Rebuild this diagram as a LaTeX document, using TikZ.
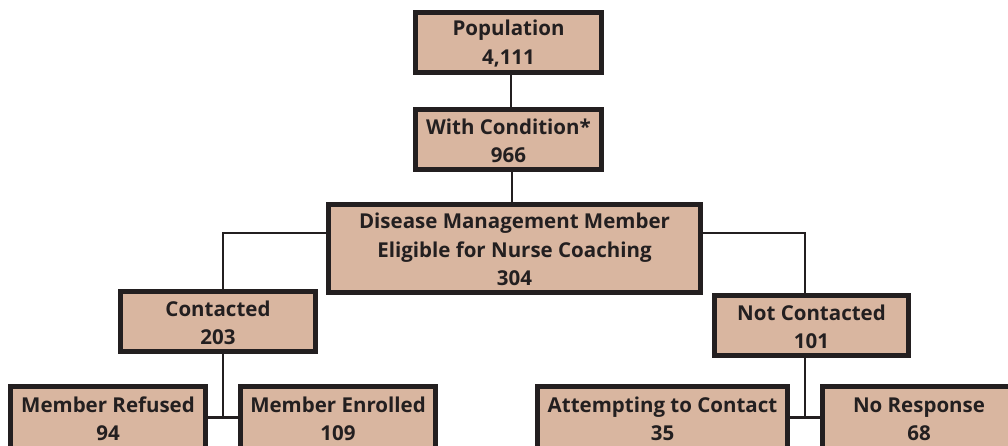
\documentclass[tikz,border=0pt]{standalone}
\usepackage{fontspec}
\setmainfont{Open Sans}
\definecolor{boxfill}{RGB}{217,182,160}
\definecolor{ink}{RGB}{35,31,32}
\newcommand\topstrut{\rule{0pt}{18pt}}
\begin{document}
\begin{tikzpicture}[x=1pt,y=-1pt,
  box/.style={draw=ink,line width=5pt,fill=boxfill,inner sep=0pt,
    text=ink,align=center,font=\fontsize{20.5}{28.5}\selectfont\bfseries,
    minimum height=60pt},
  link/.style={draw=ink,line width=2.4pt}]
\useasboundingbox (0,0) rectangle (1008,446);
\clip (0,0) rectangle (1008,446);
\node[box,minimum width=186pt] (pop) at (508.5,42.5) {\topstrut Population\\4,111};
\node[box,minimum width=186pt] (cond) at (508.5,139.5) {\topstrut With Condition*\\966};
\node[box,minimum width=372pt,minimum height=88pt] (dis) at (514.5,248.5) {\topstrut Disease Management Member\\Eligible for Nurse Coaching\\304};
\node[box,minimum width=195pt] (con) at (218,321.5) {\topstrut Contacted\\203};
\node[box,minimum width=194pt] (ncon) at (811.5,325.5) {\topstrut Not Contacted\\101};
\node[box,minimum width=195pt,minimum height=62pt] (ref) at (108,417.5) {\topstrut Member Refused\\94};
\node[box,minimum width=195pt,minimum height=62pt] (enr) at (338,417.5) {\topstrut Member Enrolled\\109};
\node[box,minimum width=250pt,minimum height=62pt] (att) at (662.5,417.5) {\topstrut Attempting to Contact\\35};
\node[box,minimum width=193pt,minimum height=62pt] (nor) at (919,417.5) {\topstrut No Response\\68};
\draw[link] ([xshift=2.5pt]pop.south) -- ([xshift=2.5pt]cond.north);
\draw[link] ([xshift=3.5pt]cond.south) -- ([xshift=3.5pt]cond.south |- dis.north);
\draw[link] ([yshift=15.5pt]dis.west) -| ([xshift=5pt]con.north);
\draw[link] ([yshift=15.5pt]dis.east) -| ([xshift=-6.5pt]ncon.north);
\draw[link] ([xshift=5pt]con.south) -- ([xshift=5pt]con.south |- ref.east);
\draw[link] (ref.east) -- (enr.west);
\draw[link] ([xshift=-6.5pt]ncon.south) -- ([xshift=-6.5pt]ncon.south |- att.east);
\draw[link] (att.east) -- (nor.west);
\end{tikzpicture}
\end{document}
